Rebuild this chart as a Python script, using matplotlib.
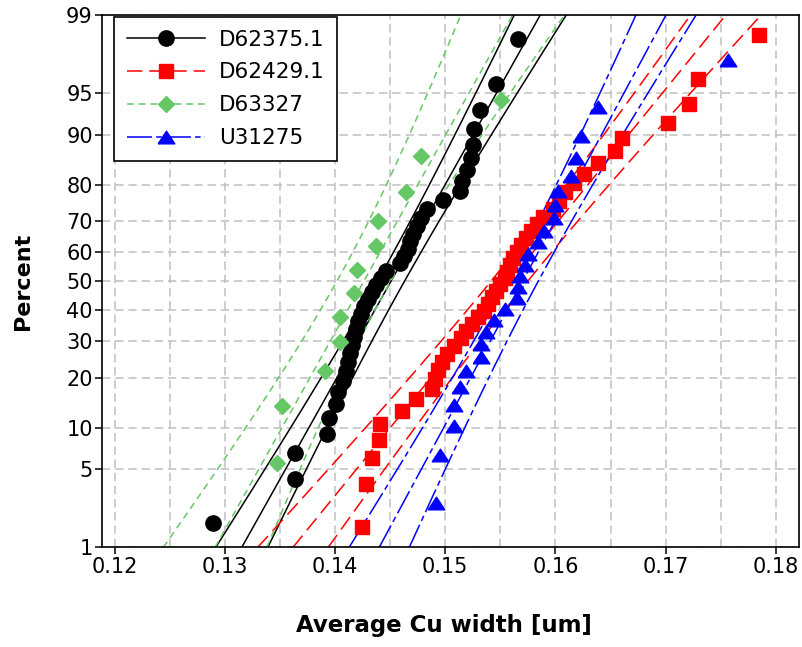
import numpy as np
import matplotlib
matplotlib.use('Agg')
import matplotlib.pyplot as plt
from matplotlib.lines import Line2D
from statistics import NormalDist

plt.rcParams['font.family'] = ['DejaVu Sans']
plt.rcParams['lines.scale_dashes'] = False

# measured widths (um), sorted, one list per lot
d62375 = [0.12896, 0.13636, 0.13636, 0.13923, 0.13947, 0.14005, 0.14025, 0.14071,
          0.14098, 0.14116, 0.14134, 0.14152, 0.14170, 0.14188, 0.14207, 0.14234,
          0.14261, 0.14297, 0.14333, 0.14370, 0.14415, 0.14460, 0.14587, 0.14623,
          0.14659, 0.14677, 0.14705, 0.14741, 0.14777, 0.14832, 0.14976, 0.15130,
          0.15149, 0.15194, 0.15235, 0.15248, 0.15257, 0.15318, 0.15463, 0.15659]
d62429 = [0.14246, 0.14285, 0.14336, 0.14397, 0.14412, 0.14611, 0.14732, 0.14877,
          0.14904, 0.14931, 0.14967, 0.15013, 0.15076, 0.15140, 0.15185, 0.15239,
          0.15294, 0.15348, 0.15384, 0.15420, 0.15457, 0.15493, 0.15538, 0.15556,
          0.15583, 0.15613, 0.15647, 0.15689, 0.15737, 0.15774, 0.15828, 0.15885,
          0.15976, 0.16036, 0.16082, 0.16172, 0.16263, 0.16383, 0.16544, 0.16604,
          0.17017, 0.17214, 0.17289, 0.17848]
d63327 = [0.13470, 0.13521, 0.13908, 0.14043, 0.14043, 0.14170, 0.14195, 0.14376,
          0.14390, 0.14648, 0.14777, 0.15508]
u31275 = [0.14919, 0.14949, 0.15076, 0.15076, 0.15130, 0.15191, 0.15327, 0.15327,
          0.15366, 0.15438, 0.15538, 0.15647, 0.15656, 0.15674, 0.15724, 0.15749,
          0.15840, 0.15896, 0.15991, 0.16000, 0.16021, 0.16142, 0.16190, 0.16233,
          0.16383, 0.17561]

# fitted line: x at 1% and 99%, and half width of the band at 1%/99%
fit_lo = [0.13153, 0.13617, 0.12911, 0.14400]
fit_hi = [0.15862, 0.17546, 0.15611, 0.17003]
band_end = [0.00236, 0.00320, 0.00470, 0.00273]

names = ['D62375.1', 'D62429.1', 'D63327', 'U31275']
pct_ticks = [1, 5, 10, 20, 30, 40, 50, 60, 70, 80, 90, 95, 99]

nd = NormalDist()
def probit(p):
    return np.array([nd.inv_cdf(v) for v in np.atleast_1d(p)])

colors = ['#000000', '#ff0000', '#66c766', '#0000ff']
dashes = [None, (11, 5), (5, 3.5), (18, 3, 4, 3)]
tri = [(-1, -0.76), (1, -0.76), (0, 0.76), (-1, -0.76)]
markers = ['o', 's', 'D', tri]
msizes = [11, 9.5, 8, 12]

fig = plt.figure(figsize=(8.02, 6.47), dpi=100)
ax = fig.add_axes([0.1278, 0.1538, 0.9963 - 0.1278, 0.9768 - 0.1538])

z_lo, z_hi = probit([0.01, 0.99])
zz = np.linspace(z_lo, z_hi, 200)
shape = np.sqrt((1 + zz**2 / 2) / (1 + z_hi**2 / 2))

for k in range(4):
    fit = fit_lo[k] + (fit_hi[k] - fit_lo[k]) * (zz - z_lo) / (z_hi - z_lo)
    half = band_end[k] * shape
    for xs in (fit - half, fit, fit + half):
        ln, = ax.plot(xs, zz, color=colors[k], lw=1.1, zorder=2)
        if dashes[k]:
            ln.set_dashes(dashes[k])

series = [d62375, d62429, d63327, u31275]
for k, vals in enumerate(series):
    n = len(vals)
    ranks = np.arange(1, n + 1)
    zpos = probit((ranks - 0.3) / (n + 0.4))
    ax.plot(vals, zpos, ls='none', marker=markers[k], ms=msizes[k],
            color=colors[k], mec=colors[k], zorder=3)

ax.set_xlim(0.1189, 0.1821)
ax.set_ylim(z_lo, z_hi)
ax.set_yticks(probit(np.array(pct_ticks) / 100.0))
ax.set_yticklabels([str(p) for p in pct_ticks])
ax.set_xticks(np.arange(0.12, 0.1801, 0.01))
ax.set_xticklabels(['%.2f' % v for v in np.arange(0.12, 0.1801, 0.01)])
ax.set_xticks(np.arange(0.125, 0.1801, 0.01), minor=True)

ax.grid(True, which='both', axis='x', color='#c0c0c0', lw=1.1, ls=(0, (6, 3.5)))
ax.grid(True, which='major', axis='y', color='#c0c0c0', lw=1.1, ls=(0, (6, 3.5)))
ax.set_axisbelow(True)

ax.tick_params(axis='both', which='major', direction='out', length=5, width=1.1,
               labelsize=15, pad=2)
ax.tick_params(axis='x', which='minor', length=0)
for s in ax.spines.values():
    s.set_linewidth(1.2)

ax.set_xlabel('Average Cu width [um]', fontsize=16.5, fontweight='bold')
ax.xaxis.set_label_coords(0.49, -0.125)
ax.set_ylabel('Percent', fontsize=16, fontweight='bold', labelpad=24)

handles = []
for k in range(4):
    h = Line2D([], [], color=colors[k], lw=1.1, marker=markers[k], ms=msizes[k],
               mec=colors[k])
    if dashes[k]:
        h.set_dashes(dashes[k])
    handles.append(h)
leg = ax.legend(handles, names, loc='upper left', bbox_to_anchor=(0.017, 0.997),
                borderaxespad=0, fontsize=15.5, handlelength=3.6, handletextpad=0.65,
                labelspacing=0.6, borderpad=0.6, fancybox=False, framealpha=1,
                edgecolor='black')
leg.get_frame().set_linewidth(1.2)

plt.savefig('out.png', dpi=100)
